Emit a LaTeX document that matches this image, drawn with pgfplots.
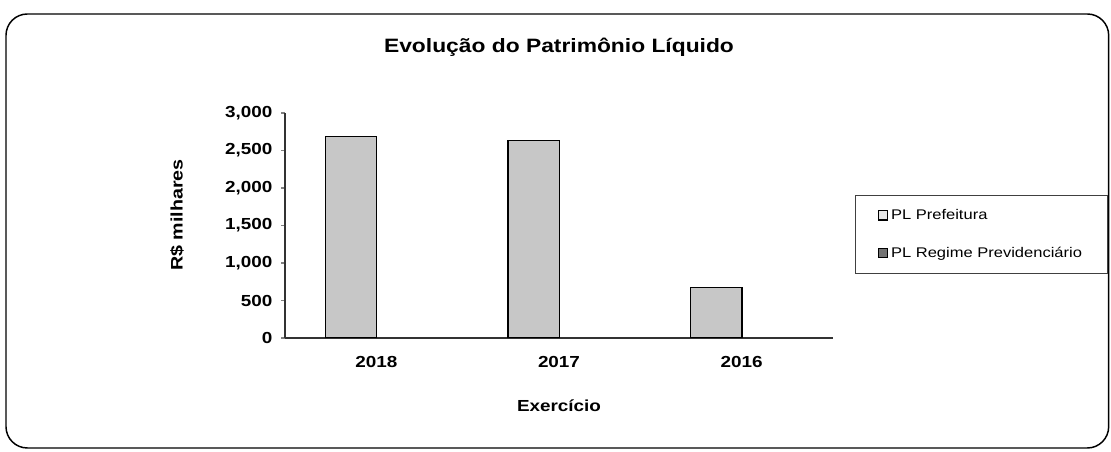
\documentclass[border=0pt]{standalone}
\usepackage{fontspec}
\setmainfont[FakeStretch=1.18]{Liberation Sans}
\usepackage{pgfplots}
\pgfplotsset{compat=1.18}
\begin{document}
\begin{tikzpicture}
\useasboundingbox (0pt,0pt) rectangle (833.25pt,339pt);
\draw[line width=1.1pt, rounded corners=16pt] (4.5pt,3pt) rectangle (831.5pt,328.5pt);
\begin{axis}[
  at={(213.75pt,85.5pt)}, anchor=south west,
  scale only axis, width=411pt, height=168.75pt,
  xmin=-0.5, xmax=2.5, ymin=0, ymax=3000,
  axis lines=left, axis line style={-, line width=1.2pt, black!80},
  ytick={0,500,...,3000},
  xtick={0,1,2}, xticklabels={2018,2017,2016},
  x tick style={draw=none},
  extra x ticks={0.5,1.5,2.5}, extra x tick labels={},
  extra x tick style={tick style={draw=black, line width=0.8pt}, major tick length=4pt, tick align=outside},
  y tick style={line width=0.8pt}, major tick length=3pt, tick align=outside,
  /pgf/number format/.cd, 1000 sep={,}, assume math mode=true, /pgfplots/.cd,
  y tick label style={font=\bfseries\fontsize{12}{14}\selectfont, xshift=-3pt},
  x tick label style={font=\bfseries\fontsize{12}{14}\selectfont, yshift=-7pt},
  title={Evolução do Patrimônio Líquido},
  title style={font=\bfseries\fontsize{14.5}{17}\selectfont, at={(0.5,1.255)}, anchor=center},
  xlabel={Exercício},
  xlabel style={font=\bfseries\fontsize{12}{14}\selectfont, at={(0.5,-0.3)}, anchor=center},
  ylabel={R\$ milhares},
  ylabel style={font=\bfseries\fontsize{12.5}{14}\selectfont, at={(-0.197,0.547)}, anchor=center},
  legend style={at={(1.040,0.636)}, anchor=north west, draw=black!75, line width=0.6pt,
    font=\fontsize{10.5}{12}\selectfont, inner xsep=17pt, inner ysep=8.5pt, row sep=15pt},
  legend cell align=left,
  legend image code/.code={\draw[#1] (0pt,-3.5pt) rectangle (7pt,3.5pt);},
]
\addplot[ybar, forget plot, bar width=38.5pt, bar shift=-19pt, fill=black!22, draw=black, line width=1pt]
  coordinates {(0,2690) (1,2630) (2,670)};
\addlegendimage{fill=black!10, draw=black, line width=0.8pt}
\addlegendentry{PL Prefeitura}
\addlegendimage{fill=black!55, draw=black, line width=0.8pt}
\addlegendentry{PL Regime Previdenciário}
\end{axis}
\end{tikzpicture}
\end{document}
